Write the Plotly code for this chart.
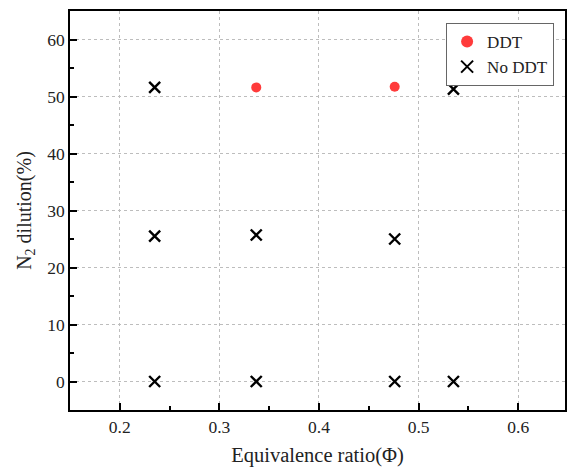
import plotly.graph_objects as go

# Equivalence ratio / N2 dilution test matrix
ddt_phi = [0.337, 0.476]
ddt_n2 = [51.6, 51.7]

noddt_phi = [0.235, 0.535, 0.235, 0.337, 0.476, 0.235, 0.337, 0.476, 0.535]
noddt_n2 = [51.6, 51.3, 25.5, 25.7, 25.0, 0.0, 0.0, 0.0, 0.0]

x_ticks = [0.2, 0.3, 0.4, 0.5, 0.6]
y_ticks = [0, 10, 20, 30, 40, 50, 60]

FONT = "Liberation Serif"

fig = go.Figure()
fig.add_trace(go.Scatter(
    x=ddt_phi, y=ddt_n2, mode="markers", name="DDT",
    marker=dict(symbol="circle", size=10, color="#FF3B3B"),
))
fig.add_trace(go.Scatter(
    x=noddt_phi, y=noddt_n2, mode="markers", name="No DDT",
    marker=dict(symbol="x-thin", size=11, color="black",
                line=dict(width=2.4, color="black")),
))

axis_common = dict(
    showline=True, linecolor="black", linewidth=1.5, mirror=True,
    ticks="inside", ticklen=7, tickwidth=1.5, tickcolor="black",
    showgrid=True, gridcolor="#BDBDBD", griddash="3px,3px", gridwidth=1,
    zeroline=False,
    tickfont=dict(family=FONT, size=17.5, color="#222"),
    minor=dict(ticks="inside", ticklen=4, tickwidth=1.5, tickcolor="black",
               showgrid=False),
)

fig.update_xaxes(
    range=[0.15, 0.647], tickvals=x_ticks,
    ticktext=[f"{v:.1f}" for v in x_ticks],
    minor_dtick=0.05, minor_tick0=0.15,
    title=dict(text="Equivalence ratio(Φ)", font=dict(family=FONT, size=20.5, color="#222"),
               standoff=12),
    **axis_common,
)
fig.update_yaxes(
    range=[-5, 65], tickvals=y_ticks,
    minor_dtick=5, minor_tick0=5,
    title=dict(text="N<sub>2</sub> dilution(%)", font=dict(family=FONT, size=20, color="#222"),
               standoff=10),
    **axis_common,
)

fig.update_layout(
    width=569, height=476,
    margin=dict(l=70, r=2, t=11, b=66),
    plot_bgcolor="white", paper_bgcolor="white",
    legend=dict(
        x=0.978, y=0.97, xanchor="right", yanchor="top",
        bordercolor="#666", borderwidth=1, bgcolor="white",
        font=dict(family=FONT, size=17, color="#222"),
        itemsizing="constant",
    ),
)

fig.write_html("out.html")
